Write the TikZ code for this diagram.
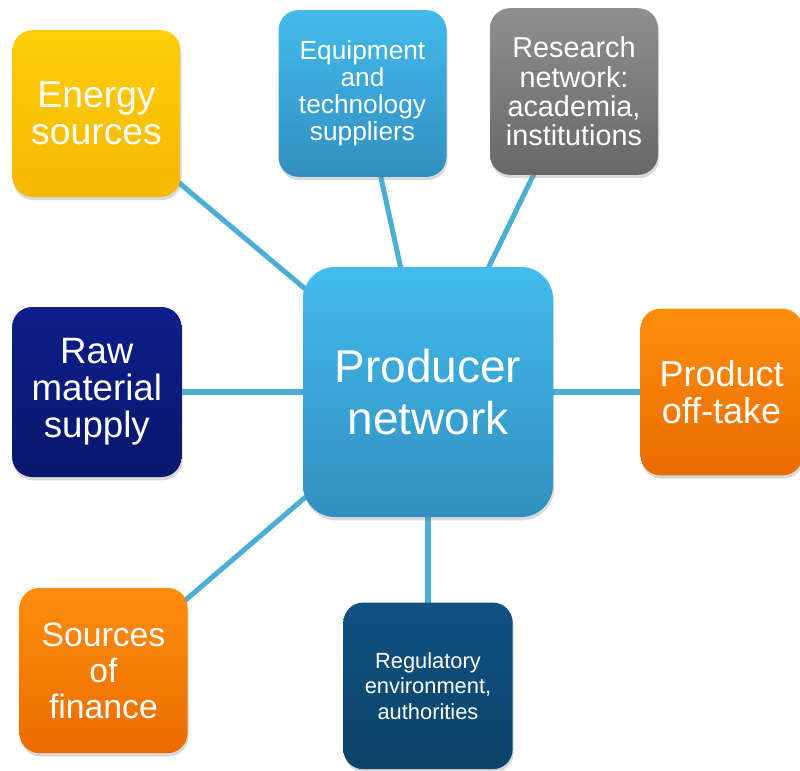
\documentclass[tikz,border=0pt]{standalone}
\usepackage{fontspec}
\setmainfont{Liberation Sans}
\usepackage{tikz}
\usetikzlibrary{shapes, positioning, calc, backgrounds, shadows}

\definecolor{linkblue}{HTML}{4BAED4}
\definecolor{yeltop}{HTML}{FFCE0A}
\definecolor{yelbot}{HTML}{F4B800}
\definecolor{bluetop}{HTML}{42BBEC}
\definecolor{bluebot}{HTML}{318FC0}
\definecolor{graytop}{HTML}{8F8F8F}
\definecolor{graybot}{HTML}{686868}
\definecolor{orgtop}{HTML}{FF8E0C}
\definecolor{orgbot}{HTML}{EA6C00}
\definecolor{navytop}{HTML}{0E1E8A}
\definecolor{navybot}{HTML}{0A176C}
\definecolor{regtop}{HTML}{105183}
\definecolor{regbot}{HTML}{0C4468}

\begin{document}
\begin{tikzpicture}[
		x=0.75pt, y=-0.75pt,
		block/.style = {draw=none, rectangle, rounded corners=15pt, minimum height=125pt, minimum width=126pt, inner sep=2pt, align=center, text=white, drop shadow={opacity=0.3, shadow xshift=0.8pt, shadow yshift=-2.5pt}},
		hub/.style = {block, rounded corners=24pt, minimum height=187.5pt, minimum width=187.5pt},
		link/.style = {draw=linkblue, line width=3.8pt}
		]
		\useasboundingbox (0,0) rectangle (800,771);
		
		\node [hub, top color=bluetop, bottom color=bluebot, font=\fontsize{34.5}{39}\selectfont] (producer) at (428,392) {Producer\\network};
		
		\node [block, top color=yeltop, bottom color=yelbot, font=\fontsize{28}{27.5}\selectfont] (energy) at (96.5,113.5) {Energy\\sources};
		\node [block, top color=bluetop, bottom color=bluebot, font=\fontsize{19.7}{20.3}\selectfont] (equip) at (362.5,93.5) {Equipment\\and\\technology\\suppliers};
		\node [block, top color=graytop, bottom color=graybot, font=\fontsize{21.6}{22}\selectfont] (research) at (574,91.5) {Research\\network:\\academia,\\institutions};
		\node [block, left=90.75pt of producer, minimum width=127pt, minimum height=127.5pt, top color=navytop, bottom color=navybot, font=\fontsize{27.5}{27.7}\selectfont] (rawmat) {Raw\\material\\supply};
		\node [block, right=65.25pt of producer, minimum width=121.5pt, top color=orgtop, bottom color=orgbot, font=\fontsize{27}{27.7}\selectfont] (offtake) {Product\\off-take};
		\node [block, top color=orgtop, bottom color=orgbot, minimum height=124pt, font=\fontsize{25.3}{27}\selectfont] (finance) at (103.5,670.5) {Sources\\of\\finance};
		\node [block, below=63.75pt of producer, minimum width=127pt, top color=regtop, bottom color=regbot, font=\fontsize{16.4}{19}\selectfont] (regul) {Regulatory\\environment,\\authorities};
		
		% spokes behind the boxes
		\begin{scope}[on background layer]
			\foreach \n in {energy, equip, research, rawmat, offtake, finance, regul}
				\draw [link] (\n.center) -- (producer.center);
		\end{scope}
		
	\end{tikzpicture}
\end{document}
